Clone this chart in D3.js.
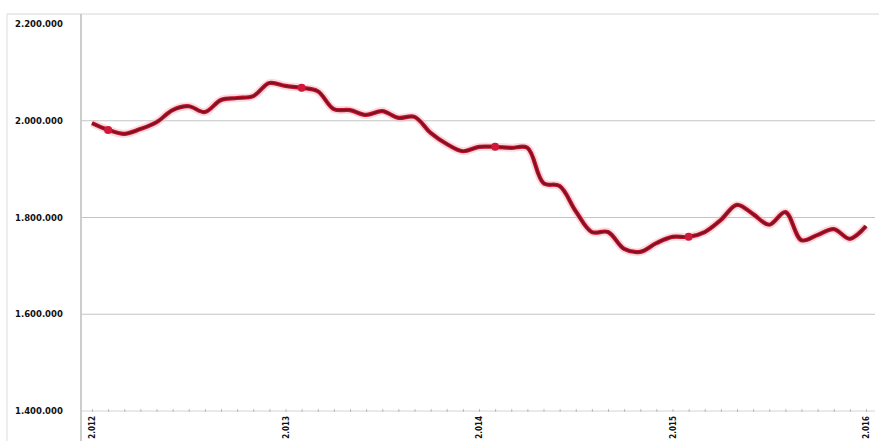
<!DOCTYPE html>
<html>
<head>
<meta charset="utf-8">
<script src="https://cdn.jsdelivr.net/npm/d3@7"></script>
<style>
  html, body { margin: 0; padding: 0; background: #fff; }
  svg { display: block; }
</style>
</head>
<body>
<svg id="chart" width="879" height="441"></svg>
<script>
// Monthly values, January 2012 to January 2016
const monthIndex = d3.range(49);
const values = [
  1995000, 1981000, 1973000, 1983000, 1997000, 2022000, 2030000, 2018000,
  2043000, 2047000, 2051000, 2078000, 2072000, 2068000, 2061000, 2024000,
  2022000, 2012000, 2020000, 2006000, 2008000, 1975000, 1952000, 1937000,
  1946000, 1946000, 1944000, 1944000, 1871000, 1865000, 1813000, 1770000,
  1770000, 1735000, 1729000, 1747000, 1760000, 1760000, 1770000, 1795000,
  1826000, 1807000, 1785000, 1811000, 1753000, 1764000, 1776000, 1756000,
  1782000
];
// Highlighted points (one per year)
const markerIdx = [1, 13, 25, 37];
// Axis labels
const yearLabels = ["2.012", "2.013", "2.014", "2.015", "2.016"];
const yearIdx = [0, 12, 24, 36, 48];
const yTicks = [1400000, 1600000, 1800000, 2000000, 2200000];

const svg = d3.select("#chart");
const x = d3.scaleLinear().domain([0, 48]).range([92, 866]);
const y = d3.scaleLinear().domain([1400000, 2200000]).range([411, 24]);

const loc = d3.formatLocale({decimal: ",", thousands: ".", grouping: [3], currency: ["", ""]});
const fmt = loc.format(",d");

// Outer frame lines
svg.append("line").attr("x1", 7).attr("x2", 879).attr("y1", 14).attr("y2", 14)
  .attr("stroke", "#d6d6d6").attr("stroke-width", 1);
svg.append("line").attr("x1", 7).attr("x2", 7).attr("y1", 14).attr("y2", 441)
  .attr("stroke", "#dcdcdc").attr("stroke-width", 1);

// Horizontal gridlines
svg.append("g").selectAll("line").data(yTicks.filter(t => t > 1400000 && t < 2200000)).join("line")
  .attr("x1", 82).attr("x2", 875)
  .attr("y1", d => y(d)).attr("y2", d => y(d))
  .attr("stroke", "#c4c4c4").attr("stroke-width", 1.2);

// Y axis
const yAxis = svg.append("g").attr("transform", "translate(81,0)")
  .call(d3.axisLeft(y).tickValues(yTicks).tickFormat(fmt).tickSize(0).tickPadding(12));
yAxis.select(".domain").attr("stroke", "#bdbdbd").attr("stroke-width", 1.5)
  .attr("d", "M0,14V441");
yAxis.selectAll("text")
  .attr("text-anchor", "start").attr("x", -66)
  .style("font-family", "DejaVu Sans, Verdana, sans-serif")
  .style("font-size", "8.5px").style("font-weight", "bold").attr("fill", "#111");

// X axis with monthly minor ticks
const xAxis = svg.append("g").attr("transform", "translate(0,411)")
  .call(d3.axisBottom(x).tickValues(monthIndex).tickSize(3).tickFormat(""));
xAxis.select(".domain").attr("stroke", "#d4d4d4").attr("d", "M82,0H875");
xAxis.selectAll(".tick line").attr("stroke", "#bbb").attr("transform", "translate(0,-2)");

svg.append("g").selectAll("text").data(yearIdx).join("text")
  .attr("transform", (d) => `translate(${x(d) + 3},416) rotate(-90)`)
  .attr("text-anchor", "end")
  .style("font-family", "DejaVu Sans Condensed, DejaVu Sans, sans-serif")
  .style("font-size", "8px").style("font-weight", "bold").attr("fill", "#111")
  .text((d, i) => yearLabels[i]);

// Series line
const line = d3.line().x((d, i) => x(monthIndex[i])).y(d => y(d)).curve(d3.curveCatmullRom.alpha(0.5));
svg.append("path").datum(values).attr("d", line)
  .attr("fill", "none").attr("stroke", "#f4b8c2").attr("stroke-width", 8)
  .attr("stroke-linejoin", "round").attr("opacity", 0.5);
svg.append("path").datum(values).attr("d", line)
  .attr("fill", "none").attr("stroke", "#c8102e").attr("stroke-width", 4.2)
  .attr("stroke-linejoin", "round");
svg.append("path").datum(values).attr("d", line)
  .attr("fill", "none").attr("stroke", "#7a1420").attr("stroke-width", 2)
  .attr("stroke-linejoin", "round");

// Markers
svg.append("g").selectAll("circle").data(markerIdx).join("circle")
  .attr("cx", d => x(d)).attr("cy", d => y(values[d])).attr("r", 4)
  .attr("fill", "#d0183a");
</script>
</body>
</html>
